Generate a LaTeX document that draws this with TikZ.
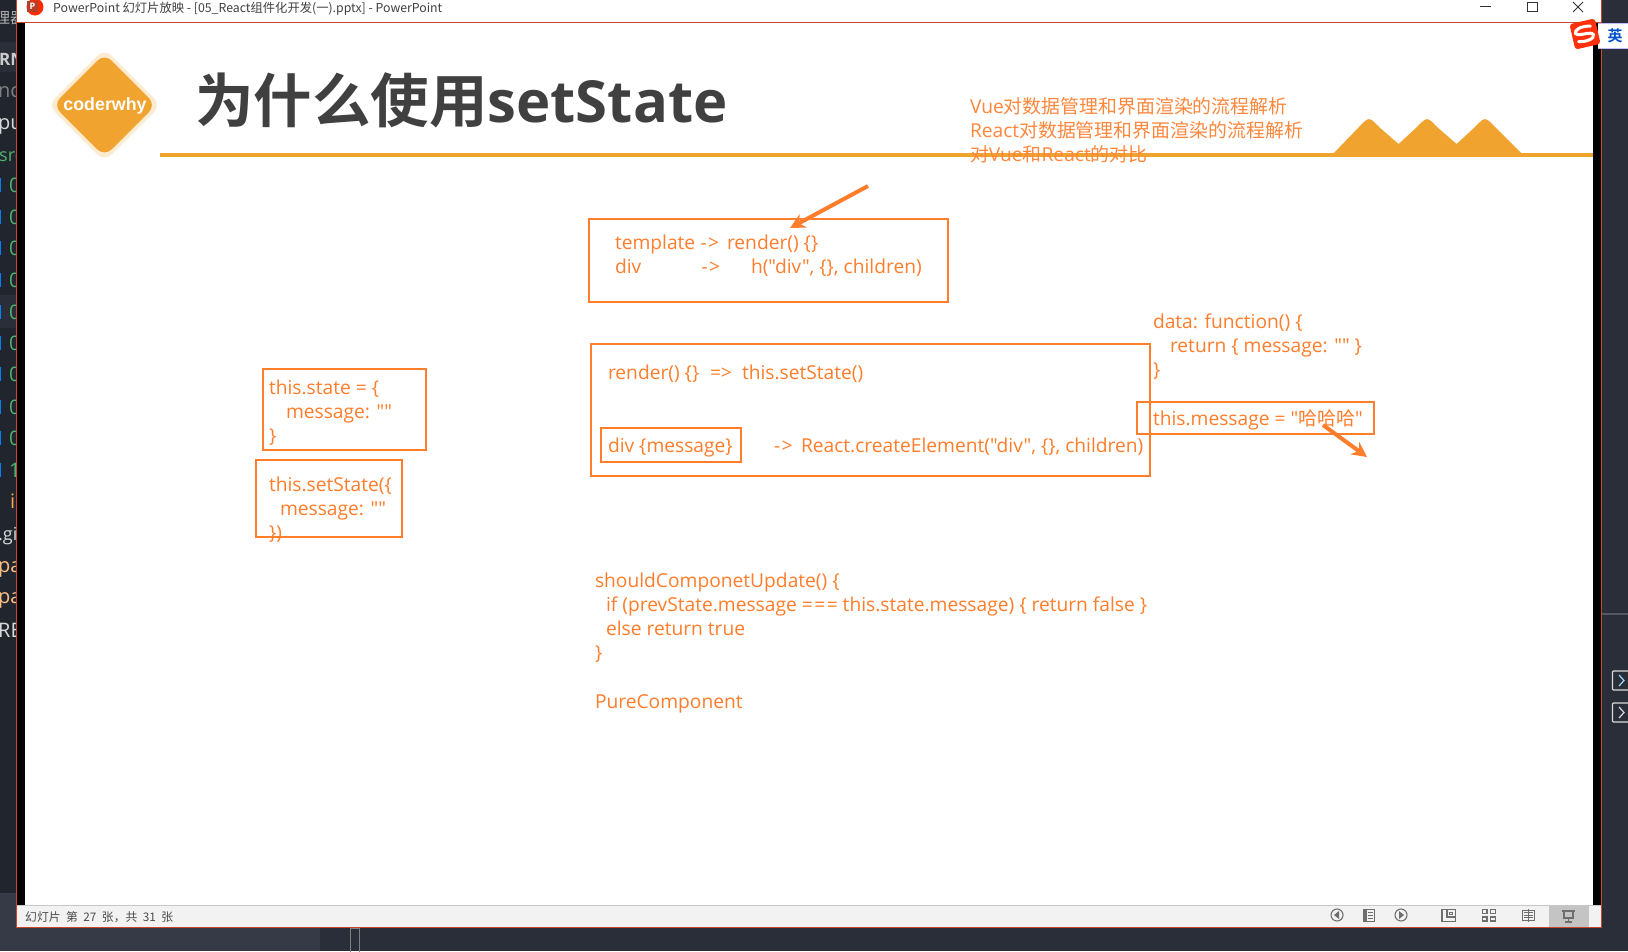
\documentclass[tikz,border=0pt]{standalone}
\usepackage{fontspec}
\usetikzlibrary{arrows.meta}
\setmainfont{Open Sans}[Ligatures=TeXOff]
\newfontfamily\cjk{Noto Sans CJK SC}[Scale=0.985]
\newfontfamily\cjkb{Noto Sans CJK SC Bold}
\newfontfamily\arialb{Liberation Sans Bold}
\newfontfamily\latb{Open Sans Bold}
\newfontfamily\ui{Noto Sans CJK SC}
\definecolor{ob}{HTML}{FF7D2B}
\definecolor{ga}{HTML}{F0A32F}
\definecolor{wred}{HTML}{C9452C}
\definecolor{dk}{HTML}{21252E}
\definecolor{dk2}{HTML}{2A2E38}
\definecolor{dk3}{HTML}{353A46}
\definecolor{icn}{HTML}{6E6E6E}
\definecolor{sgreen}{HTML}{4FB36F}
\newcommand\arw{-\kern1.5pt>}
\tikzset{
  box/.style={draw=ob,line width=2pt,inner sep=0pt,outer sep=0pt,fill=none},
  txt/.style={anchor=base west,inner sep=0pt,outer sep=0pt,text=ob,font=\fontsize{19.2}{24}\selectfont},
  hdr/.style={txt,text=ob!92!white},
  side/.style={anchor=base west,inner sep=0pt,font=\fontsize{20}{24}\selectfont},
  arr/.style={draw=ob,line width=4pt,-{Stealth[length=15pt,width=15pt]}},
  icon/.style={draw=icn,line width=1.1pt,fill=none}
}
\begin{document}
\begin{tikzpicture}[x=1pt,y=-1pt]
\useasboundingbox (0,0) rectangle (1628,951);
% desktop background
\fill[dk2] (0,0) rectangle (1628,951);
\fill[dk] (0,0) rectangle (17,893);
\fill[dk3] (0,893) rectangle (320,951);
\fill[dk2] (0,42) rectangle (16,72);
\fill[dk2] (0,295) rectangle (16,328);
\fill[dk2!80!white] (1602,613) rectangle (1628,615);
% sidebar fragments
\begin{scope}
\clip (0,0) rectangle (16,893);
\node[side,text=gray!60!white] (s1) at (-5,23) {\fontsize{15}{15}\selectfont\ui 理器};
\node[side,text=white!80!black,font=\fontsize{17}{20}\bfseries\selectfont] (s2) at (-1,65) {RN};
\node[side,text=gray] (s3) at (-2,97) {nc};
\node[side,text=white!85!black] (s4) at (-2,129) {pu};
\node[side,text=sgreen] (s5) at (-1,161) {\fontsize{18}{20}\selectfont src};
\foreach \yy/\lab in {185/0,217/0,248/0,280/0,312/0,343/0,374/0,407/0,438/0,470/1}{
  \fill[blue!50!cyan] (0,\yy-7) rectangle (1,\yy+7);
  \node[side,text=sgreen] at (9,\yy+7) {\lab};
}
\node[side,text=orange!70!white] (s6) at (10,508) {i};
\node[side,text=white!85!black] (s7) at (-2,540) {\fontsize{18}{20}\selectfont .gi};
\node[side,text=orange!50!white] (s8) at (-2,572) {pa};
\node[side,text=orange!50!white] (s9) at (-2,603) {pa};
\node[side,text=white!85!black] (s10) at (-2,637) {RE};
\end{scope}
% window
\fill[black] (17,22) rectangle (1602,905);
\fill[white] (25,23) rectangle (1593,905);
\fill[white] (17,0) rectangle (1602,22);
\fill[black!5] (17,905) rectangle (1602,927);
\draw[black!22,line width=1pt] (17,905.5) -- (1602,905.5);
\fill[black!23] (1549,906) rectangle (1589,927);
\draw[wred,line width=1pt] (16.5,0) -- (16.5,927.5) -- (1601.5,927.5) -- (1601.5,0);
\draw[wred,line width=1pt] (17,22.5) -- (1601,22.5);
% title bar
\fill[red!65!orange] (35,7) circle (8.5);
\fill[wred!90!black] (27,1) rectangle (38,12);
\node[inner sep=0pt,text=white,font=\fontsize{9}{9}\bfseries\selectfont] (ppicon) at (32.5,6.5) {P};
\node[anchor=base west,inner sep=0pt,text=black!75,font=\fontsize{12.3}{14}\selectfont\ui] (wtitle) at (53,12) {PowerPoint 幻灯片放映 - [05\_React组件化开发(一).pptx] - PowerPoint};
\draw[black!80,line width=1pt] (1480,6.5) -- (1491,6.5);
\draw[black!80,line width=1pt] (1527,2.5) rectangle (1537,11.5);
\draw[black!80,line width=1pt] (1573,2) -- (1583,12) (1583,2) -- (1573,12);
% status bar
\node[anchor=base west,inner sep=0pt,text=black!70,font=\fontsize{11.8}{13}\selectfont\ui] (status) at (25,921) {幻灯片\hspace{5.5pt}第\hspace{5.5pt}27\hspace{5.5pt}张，共\hspace{5.5pt}31\hspace{5.5pt}张};
\draw[icon] (1337,915) circle (6);
\fill[icn] (1339,911) -- (1339,919) -- (1334,915) -- cycle;
\fill[icn] (1364,909) rectangle (1367,922);
\draw[icon] (1364,909.5) rectangle (1374.5,921.5);
\foreach \yy in {912,915,918}{\draw[icn,line width=.8pt] (1368,\yy) -- (1373,\yy);}
\draw[icon] (1401,915) circle (6);
\fill[icn] (1399,911) -- (1399,919) -- (1404,915) -- cycle;
\draw[icon] (1442,909.5) rectangle (1455.5,921.5);
\draw[icon] (1447,909.5) -- (1447,917) -- (1455.5,917);
\draw[icn,line width=.8pt] (1449.5,912) rectangle (1452.5,914);
\draw[icon] (1482.5,909.5) rectangle (1487,913.5) (1490.5,909.5) rectangle (1495.5,913.5)
  (1482.5,917) rectangle (1487,921) (1490.5,917) rectangle (1495.5,921);
\draw[icn,line width=.8pt] (1522,910) rectangle (1534,920) (1528,909) -- (1528,922);
\foreach \yy in {912.5,915,917.5}{\draw[icn,line width=.6pt] (1523.5,\yy) -- (1532.5,\yy);}
\draw[icon,line width=1.6pt] (1562,911) -- (1575,911);
\draw[icon] (1564,911) -- (1564,918) -- (1573,918) -- (1573,911) (1568.5,918) -- (1568.5,922) (1565,922) -- (1572,922);
% outside odds and ends
\draw[gray,line width=1pt] (350.5,928) rectangle (359.5,952);
\draw[black!15,rounded corners=1pt,line width=1.2pt] (1612.5,671) rectangle (1632,690);
\draw[cyan!40!white,line width=1.2pt] (1619,675) -- (1624,680.5) -- (1619,686);
\draw[black!15,rounded corners=1pt,line width=1.2pt] (1612.5,703) rectangle (1632,722);
\draw[black!15,line width=1.2pt] (1619,707) -- (1624,712.5) -- (1619,718);
% header of the slide
\fill[ga] (160,153) rectangle (1593,157);
\fill[ga] (1332,155) -- (1359,127) .. controls (1369,116.5) .. (1379,127) -- (1398.6,144)
  -- (1417,127) .. controls (1427,116.5) .. (1437,127) -- (1456.6,144)
  -- (1475,127) .. controls (1485,116.5) .. (1495,127) -- (1523,155) -- cycle;
\fill[ga!22!white,rounded corners=10pt] (104.5,48.5) -- (161,105) -- (104.5,161.5) -- (48,105) -- cycle;
\fill[ga,rounded corners=10pt] (104.5,53.5) -- (156,105) -- (104.5,156.5) -- (53,105) -- cycle;
\node[inner sep=0pt,text=white,font=\fontsize{17.8}{20}\selectfont\arialb] (logo) at (105,105.5) {coderwhy};
\node[anchor=base west,inner sep=0pt,text=black!75,font=\fontsize{58.5}{60}\selectfont] (title) at (195,122) {{\cjkb 为什么使用}{\latb\fontsize{58}{60}\selectfont setState}};
% notes upper right
\node[hdr] (n1) at (970,113) {Vue{\cjk 对数据管理和界面渲染的流程解析}};
\node[hdr] (n2) at (970,137) {React{\cjk 对数据管理和界面渲染的流程解析}};
\node[hdr] (n3) at (970,161) {{\cjk 对}Vue{\cjk 和}React{\cjk 的对比}};
% top box
\node[box,minimum width=359pt,minimum height=83pt] (tbox) at (768.5,260.5) {};
\node[txt] (t1a) at (615,249.5) {template};
\node[txt] (t1b) at (700.5,249.5) {\arw};
\node[txt] (t1c) at (727,249.5) {render() \{\}};
\node[txt] (t2a) at (615,273.5) {div};
\node[txt] (t2b) at (701.5,273.5) {\arw};
\node[txt] (t2c) at (751,273.5) {h("div", \{\}, children)};
\coordinate (a1s) at (868,186);
\coordinate (a1e) at (790,228);
\draw[arr] (a1s) -- (a1e);
% middle box
\node[box,minimum width=559pt,minimum height=132pt] (mbox) at (870.5,410.25) {};
\node[txt] (m1a) at (608,379.5) {render() \{\}};
\node[txt] (m1b) at (710,379.5) {=>};
\node[txt] (m1c) at (742,379.5) {this.setState()};
\node[box,minimum width=140pt,minimum height=34pt] (dbox) at (671,445) {};
\node[txt] (m2a) at (608,452) {div \{message\}};
\node[txt] (m2b) at (774,452) {\arw};
\node[txt] (m2c) at (801,452) {React.createElement("div", \{\}, children)};
% left boxes
\node[box,minimum width=163pt,minimum height=81pt] (abox) at (344.5,409.5) {};
\node[txt] (a1) at (269,394) {this.state = \{};
\node[txt] (a2) at (286,418) {message: ""};
\node[txt] (a3) at (269,442) {\}};
\node[box,minimum width=146pt,minimum height=77pt] (bbox) at (329,498.5) {};
\node[txt] (b1) at (269,491) {this.setState(\{};
\node[txt] (b2) at (280,515) {message: ""};
\node[txt] (b3) at (269,539) {\})};
% right notes
\node[txt] (d1) at (1153,328) {data: function() \{};
\node[txt] (d2) at (1170,352) {return \{ message: "" \}};
\node[txt] (d3) at (1153,376) {\}};
\node[box,minimum width=237pt,minimum height=32pt] (cbox) at (1255.5,418) {};
\node[txt] (c1) at (1153,425) {this.message = "{\cjk 哈哈哈}"};
\coordinate (a2s) at (1323,425);
\coordinate (a2e) at (1367,457);
\draw[arr] (a2s) -- (a2e);
% lower text
\node[txt] (l1) at (595,587) {shouldComponetUpdate() \{};
\node[txt] (l2) at (606,611) {if (prevState.message =\kern1.5pt=\kern1.5pt= this.state.message) \{ return false \}};
\node[txt] (l3) at (606,635) {else return true};
\node[txt] (l4) at (595,659) {\}};
\node[txt] (l5) at (595,708) {PureComponent};
% input-method badge
\fill[white] (1598,24) rectangle (1628,48);
\draw[blue!25!white,line width=1pt] (1598,23.5) -- (1628,23.5) (1598,48) -- (1628,48);
\node[inner sep=0pt,text=blue!60!cyan!80!black,font=\fontsize{15}{15}\selectfont\cjkb] (ime) at (1615,36) {英};
\begin{scope}[rotate around={13:(1585,34)}]
\fill[red!70!orange!95!white,rounded corners=3pt] (1572,21) rectangle (1598,47);
\draw[white,line width=3pt,line cap=round] (1592,27.5) .. controls (1582,25) and (1575,28) .. (1576,31.5) .. controls (1578,35.5) and (1592,32) .. (1593,36.5) .. controls (1594,41) and (1583,42) .. (1577,40);
\end{scope}
\end{tikzpicture}
\end{document}
